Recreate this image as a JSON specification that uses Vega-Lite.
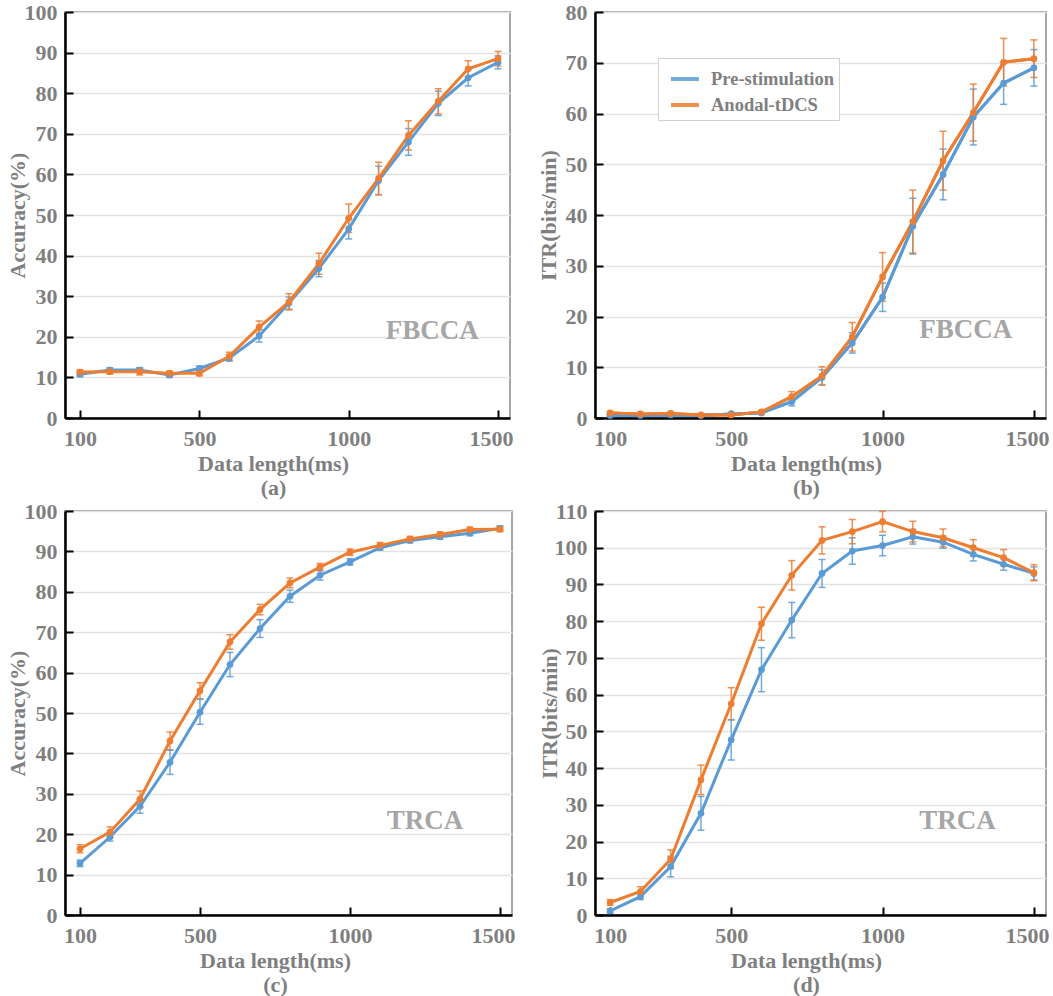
{
"$schema":"https://vega.github.io/schema/vega-lite/v6.json",
"padding":{"left":5,"top":0,"right":2,"bottom":0},
"config":{"font":"Liberation Serif",
 "view":{"stroke":"#a6a6a6","strokeWidth":2},
 "axis":{"labelFont":"Liberation Serif","labelFontWeight":"bold","labelColor":"#7f7f7f","labelFontSize":22,"titleFont":"Liberation Serif","titleFontWeight":"bold","titleColor":"#7f7f7f","titleFontSize":22,"domainColor":"black","domainWidth":2.5,"tickColor":"black","tickWidth":2,"tickSize":-8,"gridColor":"#e3e3e3","gridWidth":1.5,"titleLineHeight":24,"zindex":1},
 "axisX":{"labelFlush":13,"labelFlushOffset":15},
 "text":{"font":"Liberation Serif"},
 "concat":{"spacing":21}
},
"datasets":{
"series":[
{"p":"a","len":100,"s":"Pre-stimulation","v":10.8,"lo":10.2,"hi":11.4},
{"p":"a","len":200,"s":"Pre-stimulation","v":11.8,"lo":11.2,"hi":12.4},
{"p":"a","len":300,"s":"Pre-stimulation","v":11.8,"lo":11.2,"hi":12.4},
{"p":"a","len":400,"s":"Pre-stimulation","v":10.6,"lo":10.0,"hi":11.2},
{"p":"a","len":500,"s":"Pre-stimulation","v":12.2,"lo":11.6,"hi":12.8},
{"p":"a","len":600,"s":"Pre-stimulation","v":14.8,"lo":14.0,"hi":15.6},
{"p":"a","len":700,"s":"Pre-stimulation","v":20.2,"lo":18.7,"hi":21.7},
{"p":"a","len":800,"s":"Pre-stimulation","v":28.3,"lo":26.8,"hi":29.8},
{"p":"a","len":900,"s":"Pre-stimulation","v":36.8,"lo":34.8,"hi":38.8},
{"p":"a","len":1000,"s":"Pre-stimulation","v":46.6,"lo":44.1,"hi":49.1},
{"p":"a","len":1100,"s":"Pre-stimulation","v":58.5,"lo":55.0,"hi":62.0},
{"p":"a","len":1200,"s":"Pre-stimulation","v":68.0,"lo":64.7,"hi":71.3},
{"p":"a","len":1300,"s":"Pre-stimulation","v":77.5,"lo":74.5,"hi":80.5},
{"p":"a","len":1400,"s":"Pre-stimulation","v":83.8,"lo":81.8,"hi":85.8},
{"p":"a","len":1500,"s":"Pre-stimulation","v":87.6,"lo":86.0,"hi":89.2},
{"p":"a","len":100,"s":"Anodal-tDCS","v":11.3,"lo":10.7,"hi":11.9},
{"p":"a","len":200,"s":"Anodal-tDCS","v":11.4,"lo":10.8,"hi":12.0},
{"p":"a","len":300,"s":"Anodal-tDCS","v":11.4,"lo":10.6,"hi":12.2},
{"p":"a","len":400,"s":"Anodal-tDCS","v":11.0,"lo":10.4,"hi":11.6},
{"p":"a","len":500,"s":"Anodal-tDCS","v":11.0,"lo":10.4,"hi":11.6},
{"p":"a","len":600,"s":"Anodal-tDCS","v":15.2,"lo":14.2,"hi":16.2},
{"p":"a","len":700,"s":"Anodal-tDCS","v":22.4,"lo":20.9,"hi":23.9},
{"p":"a","len":800,"s":"Anodal-tDCS","v":28.6,"lo":26.6,"hi":30.6},
{"p":"a","len":900,"s":"Anodal-tDCS","v":38.0,"lo":35.4,"hi":40.6},
{"p":"a","len":1000,"s":"Anodal-tDCS","v":49.2,"lo":45.7,"hi":52.7},
{"p":"a","len":1100,"s":"Anodal-tDCS","v":59.0,"lo":55.0,"hi":63.0},
{"p":"a","len":1200,"s":"Anodal-tDCS","v":69.6,"lo":66.0,"hi":73.2},
{"p":"a","len":1300,"s":"Anodal-tDCS","v":78.0,"lo":74.9,"hi":81.1},
{"p":"a","len":1400,"s":"Anodal-tDCS","v":86.0,"lo":84.0,"hi":88.0},
{"p":"a","len":1500,"s":"Anodal-tDCS","v":88.5,"lo":86.7,"hi":90.3},
{"p":"b","len":100,"s":"Pre-stimulation","v":0.5,"lo":0.3,"hi":0.7},
{"p":"b","len":200,"s":"Pre-stimulation","v":0.5,"lo":0.3,"hi":0.7},
{"p":"b","len":300,"s":"Pre-stimulation","v":0.6,"lo":0.4,"hi":0.8},
{"p":"b","len":400,"s":"Pre-stimulation","v":0.5,"lo":0.3,"hi":0.7},
{"p":"b","len":500,"s":"Pre-stimulation","v":0.8,"lo":0.5,"hi":1.1},
{"p":"b","len":600,"s":"Pre-stimulation","v":1.0,"lo":0.7,"hi":1.3},
{"p":"b","len":700,"s":"Pre-stimulation","v":3.2,"lo":2.4,"hi":4.0},
{"p":"b","len":800,"s":"Pre-stimulation","v":8.0,"lo":6.5,"hi":9.5},
{"p":"b","len":900,"s":"Pre-stimulation","v":14.8,"lo":12.8,"hi":16.8},
{"p":"b","len":1000,"s":"Pre-stimulation","v":23.8,"lo":21.0,"hi":26.6},
{"p":"b","len":1100,"s":"Pre-stimulation","v":37.8,"lo":32.3,"hi":43.3},
{"p":"b","len":1200,"s":"Pre-stimulation","v":48.0,"lo":43.0,"hi":53.0},
{"p":"b","len":1300,"s":"Pre-stimulation","v":59.3,"lo":53.8,"hi":64.8},
{"p":"b","len":1400,"s":"Pre-stimulation","v":66.0,"lo":61.8,"hi":70.2},
{"p":"b","len":1500,"s":"Pre-stimulation","v":69.0,"lo":65.4,"hi":72.6},
{"p":"b","len":100,"s":"Anodal-tDCS","v":1.0,"lo":0.7,"hi":1.3},
{"p":"b","len":200,"s":"Anodal-tDCS","v":0.8,"lo":0.5,"hi":1.1},
{"p":"b","len":300,"s":"Anodal-tDCS","v":0.9,"lo":0.6,"hi":1.2},
{"p":"b","len":400,"s":"Anodal-tDCS","v":0.6,"lo":0.4,"hi":0.8},
{"p":"b","len":500,"s":"Anodal-tDCS","v":0.6,"lo":0.4,"hi":0.8},
{"p":"b","len":600,"s":"Anodal-tDCS","v":1.2,"lo":0.9,"hi":1.5},
{"p":"b","len":700,"s":"Anodal-tDCS","v":4.2,"lo":3.2,"hi":5.2},
{"p":"b","len":800,"s":"Anodal-tDCS","v":8.3,"lo":6.5,"hi":10.1},
{"p":"b","len":900,"s":"Anodal-tDCS","v":16.0,"lo":13.2,"hi":18.8},
{"p":"b","len":1000,"s":"Anodal-tDCS","v":27.8,"lo":23.0,"hi":32.6},
{"p":"b","len":1100,"s":"Anodal-tDCS","v":38.7,"lo":32.5,"hi":44.9},
{"p":"b","len":1200,"s":"Anodal-tDCS","v":50.7,"lo":44.9,"hi":56.5},
{"p":"b","len":1300,"s":"Anodal-tDCS","v":60.2,"lo":54.6,"hi":65.8},
{"p":"b","len":1400,"s":"Anodal-tDCS","v":70.1,"lo":65.4,"hi":74.8},
{"p":"b","len":1500,"s":"Anodal-tDCS","v":70.8,"lo":67.1,"hi":74.5},
{"p":"c","len":100,"s":"Pre-stimulation","v":12.8,"lo":12.0,"hi":13.6},
{"p":"c","len":200,"s":"Pre-stimulation","v":19.3,"lo":18.3,"hi":20.3},
{"p":"c","len":300,"s":"Pre-stimulation","v":26.9,"lo":25.2,"hi":28.6},
{"p":"c","len":400,"s":"Pre-stimulation","v":37.8,"lo":34.8,"hi":40.8},
{"p":"c","len":500,"s":"Pre-stimulation","v":50.2,"lo":47.2,"hi":53.4},
{"p":"c","len":600,"s":"Pre-stimulation","v":62.0,"lo":59.0,"hi":65.0},
{"p":"c","len":700,"s":"Pre-stimulation","v":70.9,"lo":68.7,"hi":73.1},
{"p":"c","len":800,"s":"Pre-stimulation","v":78.9,"lo":77.4,"hi":80.4},
{"p":"c","len":900,"s":"Pre-stimulation","v":84.1,"lo":82.9,"hi":85.3},
{"p":"c","len":1000,"s":"Pre-stimulation","v":87.4,"lo":86.6,"hi":88.2},
{"p":"c","len":1100,"s":"Pre-stimulation","v":90.9,"lo":90.3,"hi":91.5},
{"p":"c","len":1200,"s":"Pre-stimulation","v":92.7,"lo":92.1,"hi":93.3},
{"p":"c","len":1300,"s":"Pre-stimulation","v":93.6,"lo":93.0,"hi":94.2},
{"p":"c","len":1400,"s":"Pre-stimulation","v":94.5,"lo":93.9,"hi":95.1},
{"p":"c","len":1500,"s":"Pre-stimulation","v":95.7,"lo":95.1,"hi":96.3},
{"p":"c","len":100,"s":"Anodal-tDCS","v":16.4,"lo":15.4,"hi":17.4},
{"p":"c","len":200,"s":"Anodal-tDCS","v":20.5,"lo":19.2,"hi":21.8},
{"p":"c","len":300,"s":"Anodal-tDCS","v":28.7,"lo":26.6,"hi":30.7},
{"p":"c","len":400,"s":"Anodal-tDCS","v":43.1,"lo":40.9,"hi":45.3},
{"p":"c","len":500,"s":"Anodal-tDCS","v":55.5,"lo":53.5,"hi":57.5},
{"p":"c","len":600,"s":"Anodal-tDCS","v":67.6,"lo":65.8,"hi":69.4},
{"p":"c","len":700,"s":"Anodal-tDCS","v":75.6,"lo":74.3,"hi":76.9},
{"p":"c","len":800,"s":"Anodal-tDCS","v":82.2,"lo":81.0,"hi":83.4},
{"p":"c","len":900,"s":"Anodal-tDCS","v":86.1,"lo":85.2,"hi":87.0},
{"p":"c","len":1000,"s":"Anodal-tDCS","v":89.8,"lo":89.0,"hi":90.6},
{"p":"c","len":1100,"s":"Anodal-tDCS","v":91.5,"lo":90.8,"hi":92.2},
{"p":"c","len":1200,"s":"Anodal-tDCS","v":93.1,"lo":92.5,"hi":93.7},
{"p":"c","len":1300,"s":"Anodal-tDCS","v":94.2,"lo":93.6,"hi":94.8},
{"p":"c","len":1400,"s":"Anodal-tDCS","v":95.4,"lo":94.8,"hi":96.0},
{"p":"c","len":1500,"s":"Anodal-tDCS","v":95.5,"lo":94.9,"hi":96.1},
{"p":"d","len":100,"s":"Pre-stimulation","v":1.1,"lo":0.5,"hi":1.7},
{"p":"d","len":200,"s":"Pre-stimulation","v":5.0,"lo":4.2,"hi":5.8},
{"p":"d","len":300,"s":"Pre-stimulation","v":13.2,"lo":10.4,"hi":16.0},
{"p":"d","len":400,"s":"Pre-stimulation","v":27.7,"lo":23.1,"hi":32.3},
{"p":"d","len":500,"s":"Pre-stimulation","v":47.7,"lo":42.2,"hi":53.2},
{"p":"d","len":600,"s":"Pre-stimulation","v":66.8,"lo":60.8,"hi":72.8},
{"p":"d","len":700,"s":"Pre-stimulation","v":80.3,"lo":75.5,"hi":85.1},
{"p":"d","len":800,"s":"Pre-stimulation","v":93.0,"lo":89.2,"hi":96.8},
{"p":"d","len":900,"s":"Pre-stimulation","v":99.1,"lo":95.5,"hi":102.7},
{"p":"d","len":1000,"s":"Pre-stimulation","v":100.6,"lo":97.8,"hi":103.4},
{"p":"d","len":1100,"s":"Pre-stimulation","v":103.0,"lo":101.0,"hi":105.0},
{"p":"d","len":1200,"s":"Pre-stimulation","v":101.5,"lo":99.9,"hi":103.1},
{"p":"d","len":1300,"s":"Pre-stimulation","v":98.2,"lo":96.4,"hi":100.0},
{"p":"d","len":1400,"s":"Pre-stimulation","v":95.5,"lo":93.9,"hi":97.1},
{"p":"d","len":1500,"s":"Pre-stimulation","v":93.0,"lo":91.2,"hi":94.8},
{"p":"d","len":100,"s":"Anodal-tDCS","v":3.4,"lo":2.6,"hi":4.2},
{"p":"d","len":200,"s":"Anodal-tDCS","v":6.4,"lo":5.1,"hi":7.7},
{"p":"d","len":300,"s":"Anodal-tDCS","v":15.2,"lo":12.7,"hi":17.7},
{"p":"d","len":400,"s":"Anodal-tDCS","v":36.8,"lo":32.8,"hi":40.8},
{"p":"d","len":500,"s":"Anodal-tDCS","v":57.5,"lo":53.1,"hi":61.9},
{"p":"d","len":600,"s":"Anodal-tDCS","v":79.3,"lo":74.8,"hi":83.8},
{"p":"d","len":700,"s":"Anodal-tDCS","v":92.5,"lo":88.5,"hi":96.5},
{"p":"d","len":800,"s":"Anodal-tDCS","v":102.0,"lo":98.3,"hi":105.7},
{"p":"d","len":900,"s":"Anodal-tDCS","v":104.4,"lo":101.1,"hi":107.7},
{"p":"d","len":1000,"s":"Anodal-tDCS","v":107.1,"lo":104.3,"hi":109.9},
{"p":"d","len":1100,"s":"Anodal-tDCS","v":104.4,"lo":101.6,"hi":107.2},
{"p":"d","len":1200,"s":"Anodal-tDCS","v":102.7,"lo":100.3,"hi":105.1},
{"p":"d","len":1300,"s":"Anodal-tDCS","v":100.0,"lo":97.8,"hi":102.2},
{"p":"d","len":1400,"s":"Anodal-tDCS","v":97.3,"lo":95.1,"hi":99.5},
{"p":"d","len":1500,"s":"Anodal-tDCS","v":93.2,"lo":91.0,"hi":95.4}
],
"rules":[
{"p":"a","len":500,"top":9},
{"p":"a","len":1000,"top":41.5},
{"p":"b","len":1000,"top":19},
{"p":"c","len":500,"top":44},
{"p":"c","len":1000,"top":85},
{"p":"d","len":500,"top":33.6},
{"p":"d","len":1000,"top":85.5}
],
"labels":[
{"p":"a","len":1280,"v":21.5,"label":"FBCCA"},
{"p":"b","len":1275,"v":17.3,"label":"FBCCA"},
{"p":"c","len":1250,"v":23.2,"label":"TRCA"},
{"p":"d","len":1248,"v":25.6,"label":"TRCA"}
]
},
"resolve":{"scale":{"color":"independent"},"legend":{"color":"independent"}},
"vconcat":[
{"hconcat":[
{"width":445,"height":406,
 "encoding":{
  "x":{"field":"len","type":"quantitative","scale":{"domain":[50,1540],"nice":false,"zero":false},"axis":{"values":[100,500,1000,1500],"format":"d","title":["Data length(ms)","(a)"],"grid":false,"titleX":208,"labelPadding":18,"titlePadding":4,"labelFont":"Liberation Serif","titleFont":"Liberation Serif"}},
  "y":{"field":"v","type":"quantitative","title":"Accuracy(%)","scale":{"domain":[0,100],"nice":false},"axis":{"values":[0,10,20,30,40,50,60,70,80,90,100],"format":"d","grid":true,"labelPadding":16,"titlePadding":-5,"labelFont":"Liberation Serif","titleFont":"Liberation Serif"}}
 },
 "layer":[
  {"data":{"name":"rules"},"transform":[{"filter":"datum.p=='a'"}],"mark":{"type":"rule","strokeDash":[4,3],"color":"#d3d3d3","strokeWidth":1.2},"encoding":{"y":{"datum":0},"y2":{"field":"top"}}},
  {"data":{"name":"series"},"transform":[{"filter":"datum.p=='a'"}],"mark":{"type":"errorbar","ticks":{"size":7},"thickness":1.5,"opacity":0.85},"encoding":{"y":{"field":"lo","type":"quantitative","title":"Accuracy(%)"},"y2":{"field":"hi"},"color":{"field":"s","type":"nominal","scale":{"domain":["Pre-stimulation","Anodal-tDCS"],"range":["#5b9bd5","#ed7d31"]},"legend":null}}},
  {"data":{"name":"series"},"transform":[{"filter":"datum.p=='a'"}],"mark":{"type":"line","strokeWidth":3},"encoding":{"color":{"field":"s","type":"nominal","scale":{"domain":["Pre-stimulation","Anodal-tDCS"],"range":["#5b9bd5","#ed7d31"]},"legend":null}}},
  {"data":{"name":"series"},"transform":[{"filter":"datum.p=='a'"}],"mark":{"type":"point","filled":true,"size":45,"opacity":1},"encoding":{"color":{"field":"s","type":"nominal","scale":{"domain":["Pre-stimulation","Anodal-tDCS"],"range":["#5b9bd5","#ed7d31"]},"legend":null}}},
  {"data":{"name":"labels"},"transform":[{"filter":"datum.p=='a'"}],"mark":{"type":"text","fontSize":27,"fontWeight":"bold","font":"Liberation Serif","color":"#a6a6a6","align":"center","baseline":"middle"},"encoding":{"text":{"field":"label"}}}
 ]},
{"width":451,"height":406,
 "encoding":{
  "x":{"field":"len","type":"quantitative","scale":{"domain":[50,1540],"nice":false,"zero":false},"axis":{"values":[100,500,1000,1500],"format":"d","title":["Data length(ms)","(b)"],"grid":false,"titleX":211,"labelPadding":18,"titlePadding":4,"labelFont":"Liberation Serif","titleFont":"Liberation Serif"}},
  "y":{"field":"v","type":"quantitative","title":"ITR(bits/min)","scale":{"domain":[0,80],"nice":false},"axis":{"values":[0,10,20,30,40,50,60,70,80],"format":"d","grid":true,"labelPadding":16,"titlePadding":5,"labelFont":"Liberation Serif","titleFont":"Liberation Serif"}}
 },
 "layer":[
  {"data":{"name":"series"},"transform":[{"filter":"datum.p=='b'"}],"mark":{"type":"line","strokeWidth":3},"encoding":{"color":{"field":"s","type":"nominal","scale":{"domain":["Pre-stimulation","Anodal-tDCS"],"range":["#5b9bd5","#ed7d31"]},"legend":{"orient":"none","legendX":63,"legendY":46,"title":null,"symbolType":"stroke","symbolStrokeWidth":4,"symbolSize":784,"symbolOffset":6,"labelFontSize":18.5,"labelFont":"Liberation Serif","labelFontWeight":"bold","labelColor":"#7f7f7f","strokeColor":"#d0d0d0","fillColor":"white","padding":5,"rowPadding":-3,"labelOffset":10}}}},
  {"data":{"name":"rules"},"transform":[{"filter":"datum.p=='b'"}],"mark":{"type":"rule","strokeDash":[4,3],"color":"#d3d3d3","strokeWidth":1.2},"encoding":{"y":{"datum":0},"y2":{"field":"top"}}},
  {"data":{"name":"series"},"transform":[{"filter":"datum.p=='b'"}],"mark":{"type":"errorbar","ticks":{"size":7},"thickness":1.5,"opacity":0.85},"encoding":{"y":{"field":"lo","type":"quantitative","title":"ITR(bits/min)"},"y2":{"field":"hi"},"color":{"field":"s","type":"nominal","scale":{"domain":["Pre-stimulation","Anodal-tDCS"],"range":["#5b9bd5","#ed7d31"]}}}},
  {"data":{"name":"series"},"transform":[{"filter":"datum.p=='b'"}],"mark":{"type":"line","strokeWidth":3},"encoding":{"color":{"field":"s","type":"nominal","scale":{"domain":["Pre-stimulation","Anodal-tDCS"],"range":["#5b9bd5","#ed7d31"]}}}},
  {"data":{"name":"series"},"transform":[{"filter":"datum.p=='b'"}],"mark":{"type":"point","filled":true,"size":45,"opacity":1},"encoding":{"color":{"field":"s","type":"nominal","scale":{"domain":["Pre-stimulation","Anodal-tDCS"],"range":["#5b9bd5","#ed7d31"]}}}},
  {"data":{"name":"labels"},"transform":[{"filter":"datum.p=='b'"}],"mark":{"type":"text","fontSize":27,"fontWeight":"bold","font":"Liberation Serif","color":"#a6a6a6","align":"center","baseline":"middle"},"encoding":{"text":{"field":"label"}}}
 ]}
],"resolve":{"scale":{"color":"independent"},"legend":{"color":"independent"}}},
{"hconcat":[
{"width":447,"height":404,
 "encoding":{
  "x":{"field":"len","type":"quantitative","scale":{"domain":[50,1540],"nice":false,"zero":false},"axis":{"values":[100,500,1000,1500],"format":"d","title":["Data length(ms)","(c)"],"grid":false,"titleX":210,"labelPadding":18,"titlePadding":4,"labelFont":"Liberation Serif","titleFont":"Liberation Serif"}},
  "y":{"field":"v","type":"quantitative","title":"Accuracy(%)","scale":{"domain":[0,100],"nice":false},"axis":{"values":[0,10,20,30,40,50,60,70,80,90,100],"format":"d","grid":true,"labelPadding":16,"titlePadding":-5,"labelFont":"Liberation Serif","titleFont":"Liberation Serif"}}
 },
 "layer":[
  {"data":{"name":"rules"},"transform":[{"filter":"datum.p=='c'"}],"mark":{"type":"rule","strokeDash":[4,3],"color":"#d3d3d3","strokeWidth":1.2},"encoding":{"y":{"datum":0},"y2":{"field":"top"}}},
  {"data":{"name":"series"},"transform":[{"filter":"datum.p=='c'"}],"mark":{"type":"errorbar","ticks":{"size":7},"thickness":1.5,"opacity":0.85},"encoding":{"y":{"field":"lo","type":"quantitative","title":"Accuracy(%)"},"y2":{"field":"hi"},"color":{"field":"s","type":"nominal","scale":{"domain":["Pre-stimulation","Anodal-tDCS"],"range":["#5b9bd5","#ed7d31"]},"legend":null}}},
  {"data":{"name":"series"},"transform":[{"filter":"datum.p=='c'"}],"mark":{"type":"line","strokeWidth":3},"encoding":{"color":{"field":"s","type":"nominal","scale":{"domain":["Pre-stimulation","Anodal-tDCS"],"range":["#5b9bd5","#ed7d31"]},"legend":null}}},
  {"data":{"name":"series"},"transform":[{"filter":"datum.p=='c'"}],"mark":{"type":"point","filled":true,"size":45,"opacity":1},"encoding":{"color":{"field":"s","type":"nominal","scale":{"domain":["Pre-stimulation","Anodal-tDCS"],"range":["#5b9bd5","#ed7d31"]},"legend":null}}},
  {"data":{"name":"labels"},"transform":[{"filter":"datum.p=='c'"}],"mark":{"type":"text","fontSize":27,"fontWeight":"bold","font":"Liberation Serif","color":"#a6a6a6","align":"center","baseline":"middle"},"encoding":{"text":{"field":"label"}}}
 ]},
{"width":451,"height":404,
 "encoding":{
  "x":{"field":"len","type":"quantitative","scale":{"domain":[50,1540],"nice":false,"zero":false},"axis":{"values":[100,500,1000,1500],"format":"d","title":["Data length(ms)","(d)"],"grid":false,"titleX":211,"labelPadding":18,"titlePadding":4,"labelFont":"Liberation Serif","titleFont":"Liberation Serif"}},
  "y":{"field":"v","type":"quantitative","title":"ITR(bits/min)","scale":{"domain":[0,110],"nice":false},"axis":{"values":[0,10,20,30,40,50,60,70,80,90,100,110],"format":"d","grid":true,"labelPadding":16,"titlePadding":-7,"labelFont":"Liberation Serif","titleFont":"Liberation Serif"}}
 },
 "layer":[
  {"data":{"name":"rules"},"transform":[{"filter":"datum.p=='d'"}],"mark":{"type":"rule","strokeDash":[4,3],"color":"#d3d3d3","strokeWidth":1.2},"encoding":{"y":{"datum":0},"y2":{"field":"top"}}},
  {"data":{"name":"series"},"transform":[{"filter":"datum.p=='d'"}],"mark":{"type":"errorbar","ticks":{"size":7},"thickness":1.5,"opacity":0.85},"encoding":{"y":{"field":"lo","type":"quantitative","title":"ITR(bits/min)"},"y2":{"field":"hi"},"color":{"field":"s","type":"nominal","scale":{"domain":["Pre-stimulation","Anodal-tDCS"],"range":["#5b9bd5","#ed7d31"]},"legend":null}}},
  {"data":{"name":"series"},"transform":[{"filter":"datum.p=='d'"}],"mark":{"type":"line","strokeWidth":3},"encoding":{"color":{"field":"s","type":"nominal","scale":{"domain":["Pre-stimulation","Anodal-tDCS"],"range":["#5b9bd5","#ed7d31"]},"legend":null}}},
  {"data":{"name":"series"},"transform":[{"filter":"datum.p=='d'"}],"mark":{"type":"point","filled":true,"size":45,"opacity":1},"encoding":{"color":{"field":"s","type":"nominal","scale":{"domain":["Pre-stimulation","Anodal-tDCS"],"range":["#5b9bd5","#ed7d31"]},"legend":null}}},
  {"data":{"name":"labels"},"transform":[{"filter":"datum.p=='d'"}],"mark":{"type":"text","fontSize":27,"fontWeight":"bold","font":"Liberation Serif","color":"#a6a6a6","align":"center","baseline":"middle"},"encoding":{"text":{"field":"label"}}}
 ]}
],"resolve":{"scale":{"color":"independent"},"legend":{"color":"independent"}}}
],
"spacing":0
}
